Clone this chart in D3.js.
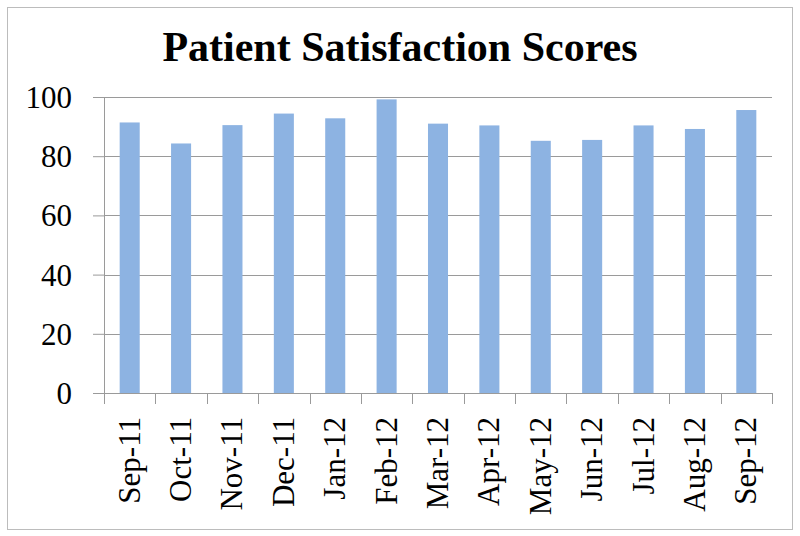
<!DOCTYPE html>
<html>
<head>
<meta charset="utf-8">
<script src="https://cdn.jsdelivr.net/npm/d3@7"></script>
<style>
  body { margin: 0; background: #fff; }
  svg { display: block; }
</style>
</head>
<body>
<div id="chart"></div>
<script>
// Chart data
const months = ["Sep-11", "Oct-11", "Nov-11", "Dec-11", "Jan-12", "Feb-12", "Mar-12",
                "Apr-12", "May-12", "Jun-12", "Jul-12", "Aug-12", "Sep-12"];
const scores = [91.4, 84.3, 90.5, 94.4, 92.8, 99.2, 91.0, 90.4, 85.2, 85.5, 90.4, 89.2, 95.6];
const yTicks = [0, 20, 40, 60, 80, 100];

const W = 800, H = 536;
const margin = {top: 97, right: 28, bottom: 143, left: 104},
    width = W - margin.left - margin.right,
    height = H - margin.top - margin.bottom;

const svg = d3.select("#chart")
    .append("svg")
    .attr("width", W)
    .attr("height", H);

// Outer frame
svg.append("rect")
    .attr("x", 7.5).attr("y", 7.5)
    .attr("width", 785).attr("height", 522)
    .attr("fill", "#fff")
    .attr("stroke", "#bcbcbc")
    .attr("stroke-width", 1);

// Title
svg.append("text")
    .attr("x", 400)
    .attr("y", 61)
    .attr("text-anchor", "middle")
    .style("font-family", "'Liberation Serif', 'DejaVu Serif', serif")
    .style("font-weight", "bold")
    .style("font-size", "42px")
    .text("Patient Satisfaction Scores");

const g = svg.append("g")
    .attr("transform", "translate(" + margin.left + "," + margin.top + ")");

const x = d3.scaleBand().domain(months).range([0, width]).paddingInner(0.61).paddingOuter(0.305);
const y = d3.scaleLinear().domain([0, 100]).range([height, 0]);

// Y axis
const yAxis = g.append("g")
    .call(d3.axisLeft(y).tickValues(yTicks).tickSize(11).tickPadding(21).tickFormat(d3.format("d")));
yAxis.select(".domain").attr("stroke", "#9a9a9a");
yAxis.selectAll(".tick line").attr("stroke", "#9a9a9a");
yAxis.selectAll(".tick text")
    .style("font-family", "'Liberation Serif', 'DejaVu Serif', serif")
    .style("font-size", "31px")
    .attr("fill", "#000")
    .attr("dy", "0.34em");

// Gridlines
g.append("g")
    .selectAll("line")
    .data(yTicks.filter(d => d > 0))
    .enter().append("line")
    .attr("x1", 0).attr("x2", width)
    .attr("y1", d => Math.round(y(d)) + 0.5)
    .attr("y2", d => Math.round(y(d)) + 0.5)
    .attr("stroke", "#9a9a9a");

// Bars
g.selectAll(".bar")
    .data(scores)
    .enter().append("rect")
    .attr("class", "bar")
    .attr("x", (d, i) => x(months[i]))
    .attr("width", x.bandwidth())
    .attr("y", d => y(d))
    .attr("height", d => height - y(d))
    .attr("fill", "#8db3e2");

// X axis baseline and ticks at band boundaries
g.append("line")
    .attr("x1", 0).attr("x2", width)
    .attr("y1", height + 0.5).attr("y2", height + 0.5)
    .attr("stroke", "#9a9a9a");

const step = x.step();
g.selectAll(".xtick")
    .data(d3.range(months.length + 1))
    .enter().append("line")
    .attr("class", "xtick")
    .attr("x1", i => Math.round(i * step) + 0.5)
    .attr("x2", i => Math.round(i * step) + 0.5)
    .attr("y1", height)
    .attr("y2", height + 11)
    .attr("stroke", "#9a9a9a");

// X labels (rotated)
g.selectAll(".xlabel")
    .data(months)
    .enter().append("text")
    .attr("class", "xlabel")
    .attr("transform", d => "translate(" + (x(d) + x.bandwidth() / 2 + 10) + "," + (height + 24) + ") rotate(-90)")
    .attr("text-anchor", "end")
    .style("font-family", "'Liberation Serif', 'DejaVu Serif', serif")
    .style("font-size", "31px")
    .text(d => d);
</script>
</body>
</html>
